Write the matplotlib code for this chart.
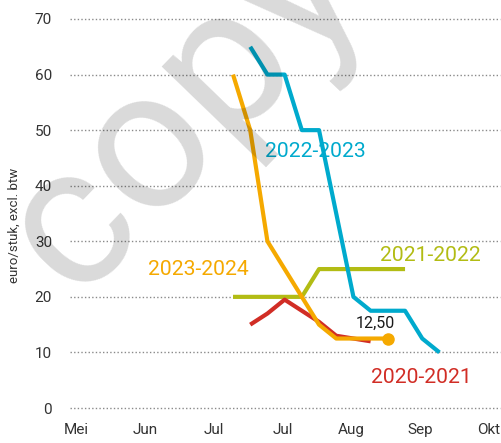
import matplotlib
matplotlib.use("Agg")
import matplotlib.pyplot as plt
import numpy as np

plt.rcParams['font.family'] = ['Roboto', 'DejaVu Sans']

# ---- data (x = week index, y = euro/stuk excl. btw) ----
month_labels = ["Mei", "Jun", "Jul", "Jul", "Aug", "Sep", "Okt"]
y_ticks = [0, 10, 20, 30, 40, 50, 60, 70]

weeks_2022 = [10, 11, 12, 13, 14, 16, 17, 19, 20, 21]
vals_2022 = [65, 60, 60, 50, 50, 20, 17.5, 17.5, 12.5, 10]

weeks_2023 = [9, 10, 11, 12, 13, 14, 15, 16, 17, 18]
vals_2023 = [60, 50, 30, 25, 20, 15, 12.5, 12.5, 12.5, 12.5]

weeks_2021 = [9, 10, 11, 12, 13, 14, 15, 16, 17, 18, 19]
vals_2021 = [20, 20, 20, 20, 20, 25, 25, 25, 25, 25, 25]

weeks_2020 = [10, 11, 12, 13, 14, 15, 17]
vals_2020 = [15, 17, 19.5, 17.5, 15.5, 13, 12]

last_label = "12,50"

c_blue = "#00AACD"
c_orange = "#F5A900"
c_green = "#B2BC14"
c_red = "#D12D25"

W, H = 502, 443
fig = plt.figure(figsize=(W / 100, H / 100), dpi=100)
ax = fig.add_axes([70 / W, (H - 408) / H, 430 / W, 389 / H])

tick_pos = np.arange(len(month_labels)) * 4 - 0.13
ax.set_xlim(-0.477, 24.52)
ax.set_ylim(0, 70)

for y in y_ticks:
    ax.axhline(y, color="#8a8a8a", lw=1.0, ls=(0, (1, 1.6)), zorder=1, clip_on=False)

lw = 3.0
ax.plot(weeks_2021, vals_2021, color=c_green, lw=lw, solid_capstyle="butt", zorder=3)
ax.plot(weeks_2020, vals_2020, color=c_red, lw=lw, solid_capstyle="butt", zorder=4)
ax.plot(weeks_2023, vals_2023, color=c_orange, lw=lw, solid_capstyle="butt", zorder=5)
ax.plot(weeks_2023[-1:], vals_2023[-1:], "o", color=c_orange, ms=8, zorder=5)
ax.plot(weeks_2022, vals_2022, color=c_blue, lw=lw, solid_capstyle="butt", zorder=6)

fs = 15.2
ax.text(10.86, 46.2, "2022-2023", color=c_blue, fontsize=fs, ha="left", va="center")
ax.text(4.06, 25.0, "2023-2024", color=c_orange, fontsize=fs, ha="left", va="center")
ax.text(17.55, 27.5, "2021-2022", color=c_green, fontsize=fs, ha="left", va="center")
ax.text(17.02, 5.4, "2020-2021", color=c_red, fontsize=fs, ha="left", va="center")
ax.text(16.15, 15.3, last_label, color="#1a1a1a", fontsize=11.5, ha="left", va="center")

ax.set_yticks(y_ticks)
ax.set_yticklabels([str(v) for v in y_ticks], fontsize=11, color="#333333")
ax.set_xticks(tick_pos)
ax.set_xticklabels(month_labels, fontsize=11, color="#333333")
ax.tick_params(axis="y", length=0, pad=13)
ax.tick_params(axis="x", length=0, pad=11)
for s in ax.spines.values():
    s.set_visible(False)

ax.set_ylabel("euro/stuk, excl. btw", fontsize=9.5, color="#333333")
ax.yaxis.set_label_coords(-0.114, 0.47)

# watermark
fig.text(184 / W, 1 - 110 / H, "copy", fontsize=143, family="Roboto",
         fontweight="normal", color="black", alpha=0.15,
         rotation=46, ha="center", va="center", zorder=10)

fig.savefig("out.png", dpi=100)
